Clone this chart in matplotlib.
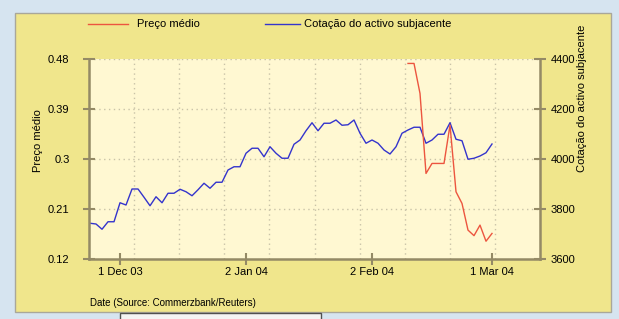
import numpy as np
import pandas as pd
import matplotlib
matplotlib.use("Agg")
import matplotlib.pyplot as plt
from matplotlib.patches import Rectangle
from matplotlib.lines import Line2D

plt.rcParams['font.family'] = ['Liberation Sans', 'DejaVu Sans']

# ---- data ----
holidays = ['2003-12-25', '2003-12-26', '2004-01-01']
dates = [d for d in pd.bdate_range('2003-11-24', '2004-03-01')
         if d.strftime('%Y-%m-%d') not in holidays]

underlying = [3743, 3740, 3719, 3749, 3749, 3825, 3816, 3880, 3880, 3847,
              3813, 3849, 3825, 3863, 3863, 3879, 3869, 3853, 3877, 3903,
              3883, 3907, 3907, 3956, 3969, 3969, 4023, 4043, 4043, 4009,
              4049, 4023, 4003, 4003, 4059, 4076, 4113, 4145, 4113, 4143,
              4143, 4156, 4135, 4137, 4156, 4103, 4063, 4076, 4063, 4036,
              4020, 4049, 4103, 4116, 4127, 4127, 4063, 4076, 4099, 4099,
              4145, 4079, 4073, 3999, 4003, 4012, 4025, 4060]

price_start = 53
price = [0.472, 0.472, 0.418, 0.274, 0.292, 0.292, 0.292, 0.361, 0.241,
         0.220, 0.172, 0.162, 0.181, 0.152, 0.166]

tick_dates = ['2003-12-01', '2004-01-02', '2004-02-02', '2004-03-01']
tick_labels = ['1 Dec 03', '2 Jan 04', '2 Feb 04', '1 Mar 04']
left_ticks = [0.12, 0.21, 0.3, 0.39, 0.48]
left_labels = ['0.12', '0.21', '0.3', '0.39', '0.48']
right_ticks = [3600, 3800, 4000, 4200, 4400]

# ---- figure ----
W, H = 619, 319
fig = plt.figure(figsize=(W / 100, H / 100), dpi=100)
fig.patch.set_facecolor('#d6e4f0')

def fx(px):
    return px / W

def fy(py):
    return 1 - py / H

panel = Rectangle((fx(15), fy(312)), fx(611) - fx(15), fy(13) - fy(312),
                  transform=fig.transFigure, facecolor='#f0e68c',
                  edgecolor='#a9a79a', linewidth=1.0, zorder=-10)
fig.patches.append(panel)
box = Rectangle((fx(120), fy(319.5)), fx(321) - fx(120), fy(313) - fy(319.5),
                transform=fig.transFigure, facecolor='#f4f4f4',
                edgecolor='#505050', linewidth=1.0, zorder=-10)
fig.patches.append(box)

ax = fig.add_axes([fx(89), fy(259), fx(540) - fx(89), fy(59) - fy(259)])
ax2 = ax.twinx()
ax2.set_zorder(1)
ax.set_zorder(2)
ax.patch.set_visible(False)
ax2.patch.set_visible(True)
ax2.patch.set_facecolor('#fff8d2')

x_all = np.arange(len(dates))
x_price = np.arange(price_start, price_start + len(price))

ax2.plot(x_all, underlying, color='#3434cc', linewidth=1.0, zorder=3)
ax.plot(x_price, price, color='#ec553f', linewidth=1.0, zorder=4)

xmin, xmax = -0.17, 75.0
ax.set_xlim(xmin, xmax)
ax.set_ylim(0.12, 0.48)
ax2.set_ylim(3600, 4400)

date_str = [d.strftime('%Y-%m-%d') for d in dates]
tick_pos = [date_str.index(t) for t in tick_dates]
ax.set_xticks(tick_pos)
ax.set_xticklabels(tick_labels)
ax.set_yticks(left_ticks)
ax.set_yticklabels(left_labels)
ax2.set_yticks(right_ticks)

# gridlines (drawn on the back axes)
grid_kw = dict(color='#c9c3a8', linewidth=1.0, linestyle=(0, (1, 2.5)), zorder=1)
for gx in np.linspace(xmin, xmax, 11)[1:-1]:
    ax2.axvline(gx, **grid_kw)
for gy in right_ticks[1:]:
    ax2.axhline(gy, **grid_kw)

spine_c = '#948a66'
for a in (ax, ax2):
    for s in a.spines.values():
        s.set_visible(False)
for s in ('left', 'bottom'):
    ax.spines[s].set_visible(True)
    ax.spines[s].set_color(spine_c)
    ax.spines[s].set_linewidth(1.8)
ax2.spines['right'].set_visible(True)
ax2.spines['right'].set_color(spine_c)
ax2.spines['right'].set_linewidth(1.8)

ax.tick_params(axis='both', direction='inout', length=8, width=1.5,
               color=spine_c, labelsize=8, labelcolor='black')
ax.tick_params(axis='y', pad=10)
ax.tick_params(axis='x', pad=2)
ax2.tick_params(axis='y', direction='inout', length=8, width=1.5,
                color=spine_c, labelsize=8, labelcolor='black', pad=3.5)

# axis labels
fig.text(fx(38), fy(172), 'Preço médio', rotation=90, fontsize=8,
         ha='center', va='bottom')
fig.text(fx(582), fy(172), 'Cotação do activo subjacente', rotation=90,
         fontsize=8, ha='center', va='bottom')
fig.text(fx(90), fy(303), 'Date (Source: Commerzbank/Reuters)', fontsize=7,
         ha='left', va='center')

# legend
fig.lines.append(Line2D([fx(88), fx(128)], [fy(24), fy(24)],
                        transform=fig.transFigure, color='#ec553f', linewidth=1.0))
fig.text(fx(137), fy(24), 'Preço médio', fontsize=8, ha='left', va='center')
fig.lines.append(Line2D([fx(265), fx(300)], [fy(24), fy(24)],
                        transform=fig.transFigure, color='#3434cc', linewidth=1.0))
fig.text(fx(304), fy(24), 'Cotação do activo subjacente', fontsize=8,
         ha='left', va='center')

fig.savefig('out.png', dpi=100, facecolor=fig.get_facecolor())
